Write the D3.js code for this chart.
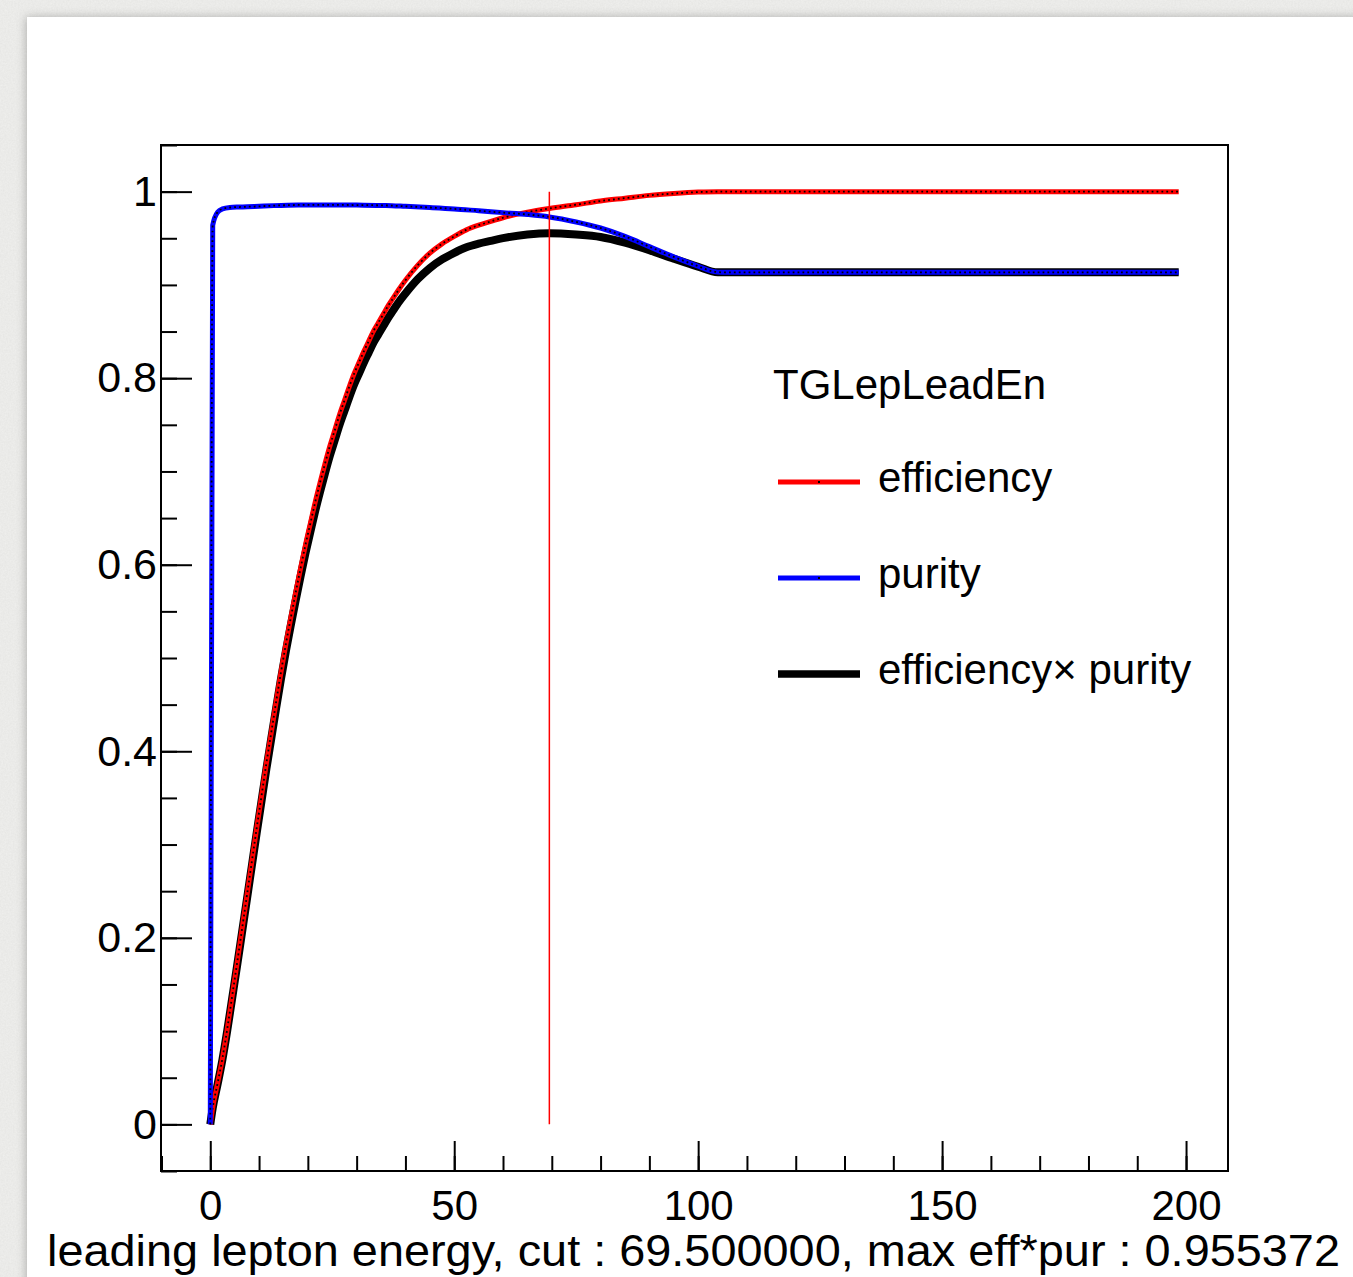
<!DOCTYPE html>
<html>
<head>
<meta charset="utf-8">
<script src="https://cdn.jsdelivr.net/npm/d3@7/dist/d3.min.js"></script>
<style>
  html, body { margin: 0; padding: 0; background: #ededeb; }
  svg { display: block; }
  text { font-family: "Liberation Sans", Arial, Helvetica, sans-serif; fill: #000; }
</style>
</head>
<body>
<div id="chart"></div>
<script>
// efficiency (red)
const effX = [0, 0.5, 1.5, 2.5, 3.5, 4.5, 5.5, 6.5, 7.5, 8.5, 9.5, 10.5, 11.5, 12.5, 13.5,
  14.5, 15.5, 16.5, 17.5, 18.5, 19.5, 20.5, 21.5, 22.5, 23.5, 24.5, 25.5, 26.5, 27.5,
  28.5, 29.5, 30.5, 31.5, 32.5, 33.5, 34.5, 35.5, 36.5, 37.5, 38.5, 40, 42.5, 45, 47.5,
  50, 52.5, 55, 57.5, 60, 65, 69.5, 75, 80, 85, 90, 95, 100, 104, 198.5];
const effY = [0, 0.018, 0.044, 0.071, 0.103, 0.138, 0.173, 0.209, 0.245, 0.281, 0.317,
  0.352, 0.387, 0.420, 0.453, 0.485, 0.515, 0.543, 0.570, 0.596, 0.621, 0.644, 0.667,
  0.688, 0.708, 0.727, 0.744, 0.761, 0.776, 0.791, 0.805, 0.817, 0.829, 0.840, 0.851,
  0.860, 0.869, 0.878, 0.886, 0.894, 0.905, 0.921, 0.934, 0.944,
  0.952, 0.959, 0.964, 0.968, 0.972, 0.978, 0.982, 0.986, 0.990, 0.993, 0.996, 0.998,
  0.9995, 1.0, 1.0];

// purity (blue)
const purX = [0, 0.5, 1.5, 2.5, 4, 6, 9, 13, 18, 25, 30, 36, 40, 45, 50, 55, 60, 65, 69.5,
  75, 80, 85, 90, 95, 100, 103, 105, 198.5];
const purY = [0, 0.964, 0.978, 0.9815, 0.983, 0.9835, 0.984, 0.985, 0.9857, 0.9858,
  0.9856, 0.9852, 0.9843, 0.983, 0.9815, 0.9795, 0.9775, 0.9755, 0.9729,
  0.9675, 0.961, 0.952, 0.941, 0.930, 0.920, 0.9145, 0.9135, 0.9135];

// efficiency x purity (black)
const prodX = [0, 0.5, 1.5, 2.5, 3.5, 4.5, 5.5, 6.5, 7.5, 8.5, 9.5, 10.5, 11.5, 12.5, 13.5,
  14.5, 15.5, 16.5, 17.5, 18.5, 19.5, 20.5, 21.5, 22.5, 23.5, 24.5, 25.5, 26.5, 27.5,
  28.5, 29.5, 30.5, 31.5, 32.5, 33.5, 34.5, 35.5, 36.5, 37.5, 38.5, 40, 42.5, 45, 47.5,
  50, 52.5, 55, 57.5, 60, 65, 69.5, 75, 80, 85, 90, 95, 100, 104, 198.5];
const prodY = [0, 0.0174, 0.043, 0.0697, 0.1012, 0.1357, 0.1701, 0.2056, 0.241, 0.2765,
  0.312, 0.3465, 0.381, 0.4137, 0.4463, 0.4779, 0.5075, 0.5351, 0.5618, 0.5875, 0.6121,
  0.6349, 0.6575, 0.6782, 0.6979, 0.7167, 0.7334, 0.7501, 0.7649, 0.7797, 0.7934,
  0.8052, 0.817, 0.8278, 0.8386, 0.8474, 0.8562, 0.865, 0.8728, 0.8806, 0.8908, 0.906,
  0.9181, 0.9273, 0.9344, 0.9403, 0.9442, 0.9472, 0.9501, 0.954, 0.955372, 0.954,
  0.9514, 0.9453, 0.9372, 0.9281, 0.9195, 0.9135, 0.9135];

const cutValue = 69.5;
const maxEffPur = "0.955372";
const yTickLabels = [0, 0.2, 0.4, 0.6, 0.8, 1];
const xTickLabels = [0, 50, 100, 150, 200];
const legendTitle = "TGLepLeadEn";
const legendNames = ["efficiency", "purity", "efficiency\u00d7 purity"];
const legendColors = ["#ff0000", "#0000ff", "#000000"];

const W = 1353, H = 1277;
const frame = { left: 161, right: 1228, top: 145, bottom: 1171 };

const svg = d3.select("#chart").append("svg")
    .attr("width", W)
    .attr("height", H);

const defs = svg.append("defs");
const paper = defs.append("filter").attr("id", "paper")
    .attr("x", 0).attr("y", 0).attr("width", 1).attr("height", 1);
paper.append("feTurbulence").attr("type", "fractalNoise")
    .attr("baseFrequency", 0.6).attr("numOctaves", 3).attr("seed", 4);
paper.append("feColorMatrix").attr("type", "matrix")
    .attr("values", "0 0 0 0 0.55  0 0 0 0 0.55  0 0 0 0 0.53  0 0 0 0.25 0");

const shadow = defs.append("filter").attr("id", "shadow")
    .attr("x", -0.05).attr("y", -0.05).attr("width", 1.1).attr("height", 1.1);
shadow.append("feDropShadow").attr("dx", -1).attr("dy", 0)
    .attr("stdDeviation", 5).attr("flood-color", "#000").attr("flood-opacity", 0.25);

// paper background + white sheet
svg.append("rect").attr("width", W).attr("height", H).attr("fill", "#f0f0ee");
svg.append("rect").attr("width", W).attr("height", H).attr("filter", "url(#paper)");
svg.append("rect")
    .attr("x", 27).attr("y", 17)
    .attr("width", W + 20).attr("height", H + 20)
    .attr("fill", "#fff")
    .attr("filter", "url(#shadow)");

const x = d3.scaleLinear().domain([-10.1, 208.6]).range([frame.left, frame.right]);
const y = d3.scaleLinear().domain([-0.05, 1.05]).range([frame.bottom, frame.top]);

// y axis: ticks point inwards
const yMinor = d3.range(-1, 22).map(i => i * 0.05);
svg.append("g")
    .attr("transform", `translate(${frame.left},0)`)
    .call(d3.axisRight(y).tickValues(yMinor).tickSize(16).tickFormat(""))
    .call(g => g.select(".domain").remove())
    .call(g => g.selectAll("line").attr("stroke-width", 2));
svg.append("g")
    .attr("transform", `translate(${frame.left},0)`)
    .call(d3.axisRight(y).tickValues(yTickLabels).tickSize(31).tickFormat(""))
    .call(g => g.select(".domain").remove())
    .call(g => g.selectAll("line").attr("stroke-width", 2));
svg.append("g")
    .attr("transform", `translate(${frame.left},0)`)
    .call(d3.axisLeft(y).tickValues(yTickLabels).tickSize(0).tickPadding(4).tickFormat(d3.format("")))
    .call(g => g.select(".domain").remove())
    .call(g => g.selectAll("text")
        .attr("font-size", 43)
        .attr("font-family", "'Liberation Sans', Arial, Helvetica, sans-serif"));

// x axis at bottom, ticks point up
const xMinor = d3.range(-1, 21).map(i => i * 10);
svg.append("g")
    .attr("transform", `translate(0,${frame.bottom})`)
    .call(d3.axisTop(x).tickValues(xMinor).tickSize(15).tickFormat(""))
    .call(g => g.select(".domain").remove())
    .call(g => g.selectAll("line").attr("stroke-width", 2));
svg.append("g")
    .attr("transform", `translate(0,${frame.bottom})`)
    .call(d3.axisTop(x).tickValues(xTickLabels).tickSize(30).tickFormat(""))
    .call(g => g.select(".domain").remove())
    .call(g => g.selectAll("line").attr("stroke-width", 2));
svg.append("g")
    .attr("transform", `translate(0,${frame.bottom})`)
    .call(d3.axisBottom(x).tickValues(xTickLabels).tickSize(0).tickPadding(19).tickFormat(d3.format("")))
    .call(g => g.select(".domain").remove())
    .call(g => g.selectAll("text")
        .attr("font-size", 42)
        .attr("font-family", "'Liberation Sans', Arial, Helvetica, sans-serif"));

// frame
svg.append("rect")
    .attr("x", frame.left).attr("y", frame.top)
    .attr("width", frame.right - frame.left)
    .attr("height", frame.bottom - frame.top)
    .attr("fill", "none")
    .attr("stroke", "#000")
    .attr("stroke-width", 2);

// axis title
svg.append("text")
    .attr("x", 1340)
    .attr("y", 1266)
    .attr("text-anchor", "end")
    .attr("font-size", 44)
    .attr("textLength", 1293)
    .attr("lengthAdjust", "spacingAndGlyphs")
    .text(`leading lepton energy, cut : ${cutValue.toFixed(6)}, max eff*pur : ${maxEffPur}`);

// curves
function drawCurve(xs, ys, color, width, dots) {
    const pts = xs.map((d, i) => [d, ys[i]]);
    const line = d3.line()
        .x(d => x(d[0]))
        .y(d => y(d[1]))
        .curve(d3.curveMonotoneX);
    svg.append("path")
        .datum(pts)
        .attr("d", line)
        .attr("fill", "none")
        .attr("stroke", color)
        .attr("stroke-width", width)
        .attr("stroke-linejoin", "round");
    if (dots) {
        // ROOT draws a tiny dot marker on every point
        svg.append("path")
            .datum(pts)
            .attr("d", line)
            .attr("fill", "none")
            .attr("stroke", "#000")
            .attr("stroke-width", 1.8)
            .attr("stroke-dasharray", "1.8 3.1");
    }
}

drawCurve(prodX, prodY, "#000", 8, false);
drawCurve(effX, effY, "#ff0000", 5, true);
drawCurve(purX, purY, "#0000ff", 5, true);

// cut line
svg.append("line")
    .attr("x1", x(cutValue)).attr("x2", x(cutValue))
    .attr("y1", y(0)).attr("y2", y(1))
    .attr("stroke", "#ff0000")
    .attr("stroke-width", 1.5);

// legend
const legend = svg.append("g").attr("transform", "translate(778,0)");
legend.append("text")
    .attr("x", -5)
    .attr("y", 399)
    .attr("font-size", 42)
    .text(legendTitle);

const rows = legend.selectAll("g.row")
    .data(legendNames)
    .enter().append("g")
    .attr("class", "row")
    .attr("transform", (d, i) => `translate(0,${482 + i * 96})`);

rows.append("line")
    .attr("x1", 0).attr("x2", 82)
    .attr("stroke", (d, i) => legendColors[i])
    .attr("stroke-width", (d, i) => i === 2 ? 7.5 : 5);

rows.filter((d, i) => i < 2).append("rect")
    .attr("x", 40).attr("y", -1).attr("width", 2).attr("height", 2)
    .attr("fill", "#000");

rows.append("text")
    .attr("x", 100)
    .attr("y", 10)
    .attr("font-size", 42)
    .text(d => d);
</script>
</body>
</html>
